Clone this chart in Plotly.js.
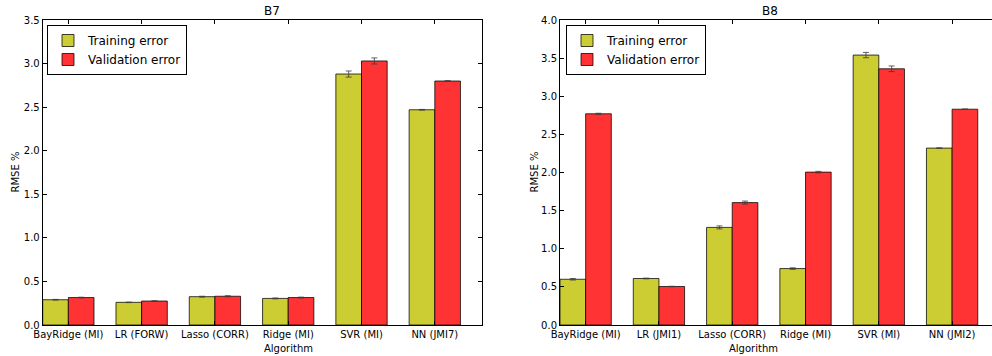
<!DOCTYPE html>
<html>
<head>
<meta charset="utf-8">
<script src="https://cdn.plot.ly/plotly-3.0.1.min.js"></script>
<style>
html,body{margin:0;padding:0;overflow:hidden;background:#fff;}
#chart{width:1000px;height:356px;}
</style>
</head>
<body>
<div id="chart"></div>
<script>
// ---- data ----
const categoriesB7 = ["BayRidge (MI)", "LR (FORW)", "Lasso (CORR)", "Ridge (MI)", "SVR (MI)", "NN (JMI7)"];
const trainB7 = [0.29, 0.26, 0.325, 0.305, 2.88, 2.47];
const trainErrB7 = [0.004, 0.003, 0.005, 0.005, 0.035, 0.004];
const valB7 = [0.315, 0.275, 0.33, 0.315, 3.03, 2.80];
const valErrB7 = [0.004, 0.003, 0.006, 0.005, 0.035, 0.004];

const categoriesB8 = ["BayRidge (MI)", "LR (JMI1)", "Lasso (CORR)", "Ridge (MI)", "SVR (MI)", "NN (JMI2)"];
const trainB8 = [0.60, 0.61, 1.28, 0.74, 3.54, 2.32];
const trainErrB8 = [0.01, 0.005, 0.02, 0.01, 0.035, 0.003];
const valB8 = [2.77, 0.505, 1.605, 2.005, 3.36, 2.83];
const valErrB8 = [0.007, 0.003, 0.02, 0.01, 0.037, 0.003];

const seriesNames = ["Training error", "Validation error"];
const titles = ["B7", "B8"];
const xTitle = "Algorithm";
const yTitle = "RMSE %";

// ---- styling ----
const FONT = "DejaVu Sans, Liberation Sans, sans-serif";
const cTrain = "#CCCC33";
const cVal = "#FF3333";
const edge = {color: "rgba(0,0,0,0.75)", width: 1};
const errStyle = {color: "rgba(60,60,60,0.8)", thickness: 1, width: 3};

function idx(arr){ return arr.map((_, i) => i); }

function mkBar(cats, vals, errs, name, color, xa, ya, legend){
  return {
    type: "bar", x: idx(cats), y: vals, name: name,
    marker: {color: color, line: edge},
    error_y: Object.assign({type: "data", array: errs, visible: true}, errStyle),
    xaxis: xa, yaxis: ya, legend: legend,
    hoverinfo: "y"
  };
}

const data = [
  mkBar(categoriesB7, trainB7, trainErrB7, seriesNames[0], cTrain, "x", "y", "legend"),
  mkBar(categoriesB7, valB7, valErrB7, seriesNames[1], cVal, "x", "y", "legend"),
  mkBar(categoriesB8, trainB8, trainErrB8, seriesNames[0], cTrain, "x2", "y2", "legend2"),
  mkBar(categoriesB8, valB8, valErrB8, seriesNames[1], cVal, "x2", "y2", "legend2")
];

const W = 1000, H = 356;
const yTop = 1 - 20 / H, yBot = 1 - 325 / H;

function xAxis(domain, cats){
  return {
    domain: domain, range: [-0.35, 5.64], tickmode: "array",
    tickvals: idx(cats), ticktext: cats,
    showline: true, mirror: "ticks", linecolor: "#000", linewidth: 1,
    ticks: "inside", ticklen: 4, tickcolor: "#000",
    showgrid: false, zeroline: false,
    tickfont: {family: FONT, size: 10, color: "#000"}
  };
}
function yAxis(anchor, rng){
  return {
    domain: [yBot, yTop], range: rng, anchor: anchor, dtick: 0.5, tickformat: ".1f",
    showline: true, mirror: "ticks", linecolor: "#000", linewidth: 1,
    ticks: "inside", ticklen: 4, tickcolor: "#000",
    showgrid: false, zeroline: false,
    tickfont: {family: FONT, size: 10, color: "#000"}
  };
}

const legendBase = {
  yanchor: "top", xanchor: "left",
  bgcolor: "#fff", bordercolor: "#000", borderwidth: 1,
  font: {family: FONT, size: 12, color: "#000"},
  tracegroupgap: 0, itemwidth: 30
};

const x1d = [42.7 / W, 481.7 / W];
const x2d = [560 / W, 999 / W];

const layout = {
  width: W, height: H,
  margin: {l: 0, r: 0, t: 0, b: 0},
  paper_bgcolor: "#fff", plot_bgcolor: "#fff",
  barmode: "group", bargap: 0.3, bargroupgap: 0,
  font: {family: FONT, color: "#000"},
  xaxis: xAxis(x1d, categoriesB7),
  yaxis: yAxis("x", [0, 3.5]),
  xaxis2: Object.assign(xAxis(x2d, categoriesB8), {anchor: "y2"}),
  yaxis2: yAxis("x2", [0, 4.0]),
  legend: Object.assign({x: 47 / W, y: 1 - 25 / H}, legendBase),
  legend2: Object.assign({x: 566 / W, y: 1 - 25 / H}, legendBase),
  annotations: [
    {text: titles[0], x: (x1d[0] + x1d[1]) / 2, y: 1 - 11 / H, xref: "paper", yref: "paper",
     showarrow: false, font: {family: FONT, size: 12}, yanchor: "middle"},
    {text: titles[1], x: (x2d[0] + x2d[1]) / 2, y: 1 - 11 / H, xref: "paper", yref: "paper",
     showarrow: false, font: {family: FONT, size: 12}, yanchor: "middle"},
    {text: xTitle, x: (x1d[0] + x1d[1]) / 2, y: 1 - 348 / H, xref: "paper", yref: "paper",
     showarrow: false, font: {family: FONT, size: 10}, yanchor: "middle"},
    {text: xTitle, x: (x2d[0] + x2d[1]) / 2, y: 1 - 348 / H, xref: "paper", yref: "paper",
     showarrow: false, font: {family: FONT, size: 10}, yanchor: "middle"},
    {text: yTitle, x: 15 / W, y: (yTop + yBot) / 2, xref: "paper", yref: "paper",
     showarrow: false, textangle: -90, font: {family: FONT, size: 10}, xanchor: "center"},
    {text: yTitle, x: 534 / W, y: (yTop + yBot) / 2, xref: "paper", yref: "paper",
     showarrow: false, textangle: -90, font: {family: FONT, size: 10}, xanchor: "center"}
  ]
};

Plotly.newPlot("chart", data, layout, {staticPlot: true, displayModeBar: false});
</script>
</body>
</html>
